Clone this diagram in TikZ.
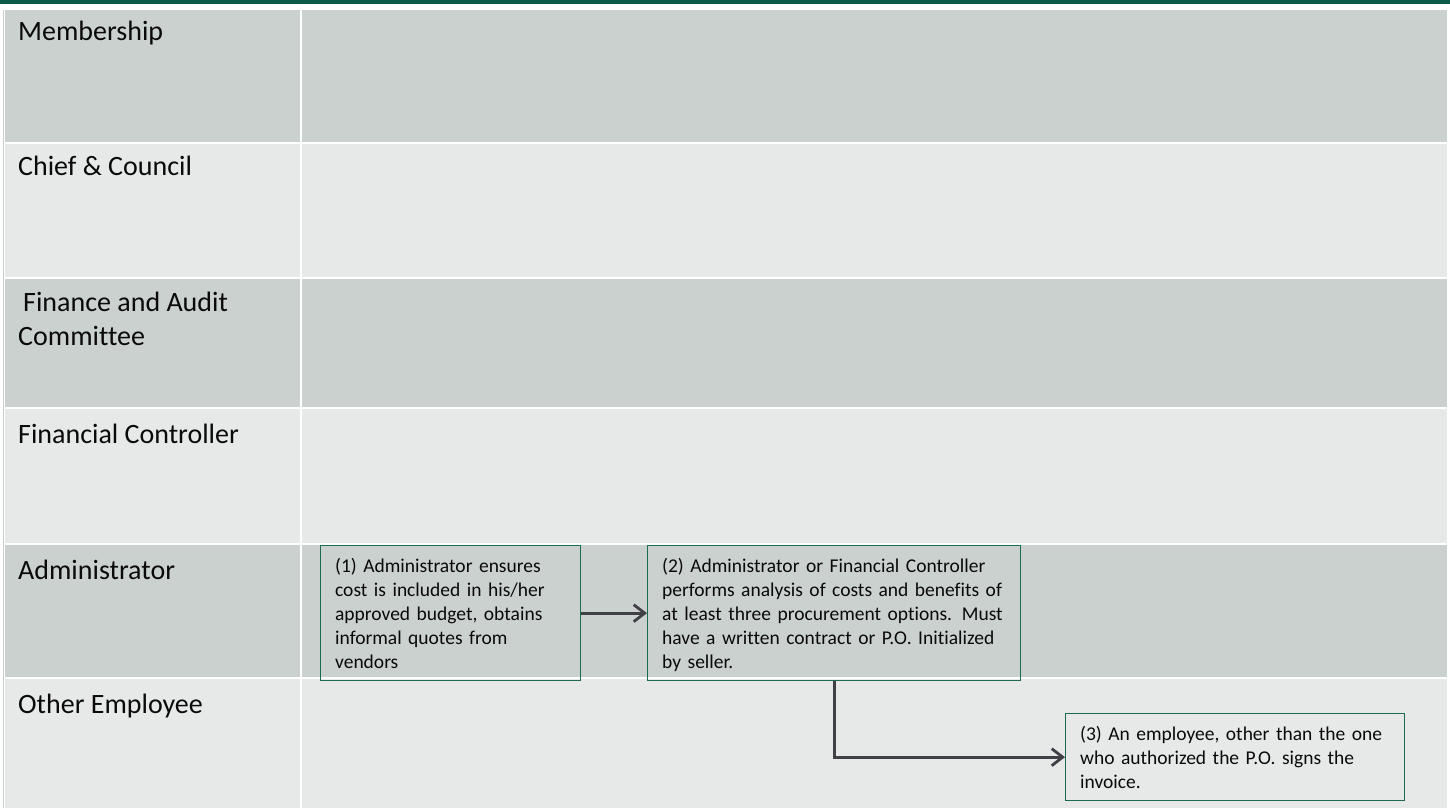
\documentclass[tikz,border=0pt]{standalone}
\usepackage{fontspec}
\setmainfont{Carlito}[Ligatures=NoCommon]
\usetikzlibrary{arrows.meta}
\definecolor{bargreen}{HTML}{0B5A47}
\definecolor{rowdark}{HTML}{CBD1CE}
\definecolor{rowlight}{HTML}{E7E9E8}
\definecolor{edgegrey}{HTML}{C9CDCB}
\definecolor{boxline}{HTML}{1F6B52}
\definecolor{flow}{HTML}{404046}
\definecolor{ink}{HTML}{0A0A0A}

\begin{document}
\begin{tikzpicture}[x=1pt,y=-1pt,
  lane/.style={font=\fontsize{28}{34}\selectfont, text=ink, anchor=base west,
    inner sep=0pt, align=left},
  stepbox/.style={draw=boxline, line width=1.3pt, font=\fontsize{19.5}{24}\selectfont,
    text=ink, align=left, inner ysep=0pt, inner xsep=14.5pt, anchor=north west},
  flowarrow/.style={draw=flow, line width=2.8pt,
    -{Straight Barb[length=11pt,width=17pt]}}]

  % page and top bar
  \useasboundingbox (0,0) rectangle (1450,808);
  \fill[white] (0,0) rectangle (1450,808);
  \fill[bargreen] (0,0) rectangle (1450,4);
  \draw[edgegrey, line width=0.8pt] (3,10) -- (3,808);

  % swimlane rows: label cell and lane cell
  \foreach \ytop/\ybot/\col in {10/142/rowdark, 144/277/rowlight, 279/407/rowdark,
                                409/543/rowlight, 545/677/rowdark, 679/808/rowlight}{
    \fill[\col] (4.5,\ytop) rectangle (300,\ybot);
    \fill[\col] (301.5,\ytop) rectangle (1447,\ybot);
  }

  % lane labels
  \node[lane] (membership) at (18,41) {Membership};
  \node[lane] (council)    at (18,175) {Chief \& Council};
  \node[lane] (audit)      at (18,311) {\hspace{5pt}Finance and Audit};
  \node[lane] (audit2)     at (18,345) {Committee};
  \node[lane] (controller) at (18,443) {Financial Controller};
  \node[lane] (admin)      at (18,579) {Administrator};
  \node[lane] (employee)   at (18,713) {Other Employee};

  % process steps (last lines carry no depth so all boxes align alike)
  \node[stepbox, text width=231pt, minimum height=135pt] (s1) at (320,545)
    {(1) Administrator ensures\\cost is included in his/her\\approved budget, obtains\\informal quotes from\\vendors};
  \node[stepbox, text width=344pt, minimum height=135pt] (s2) at (647,545)
    {(2) Administrator or Financial Controller\\performs analysis of costs and benefits of\\at least three procurement options. Must\\have a written contract or P.O. Initialized\\\smash{by seller.}};
  \node[stepbox, text width=310pt, minimum height=87pt] (s3) at (1065,713)
    {(3) An employee, other than the one\\who authorized the P.O. signs the\\invoice.};

  % connectors
  \draw[flowarrow] (s1.east) -- (s2.west);
  \draw[flowarrow] (s2.south) |- (s3.west);
\end{tikzpicture}
\end{document}
